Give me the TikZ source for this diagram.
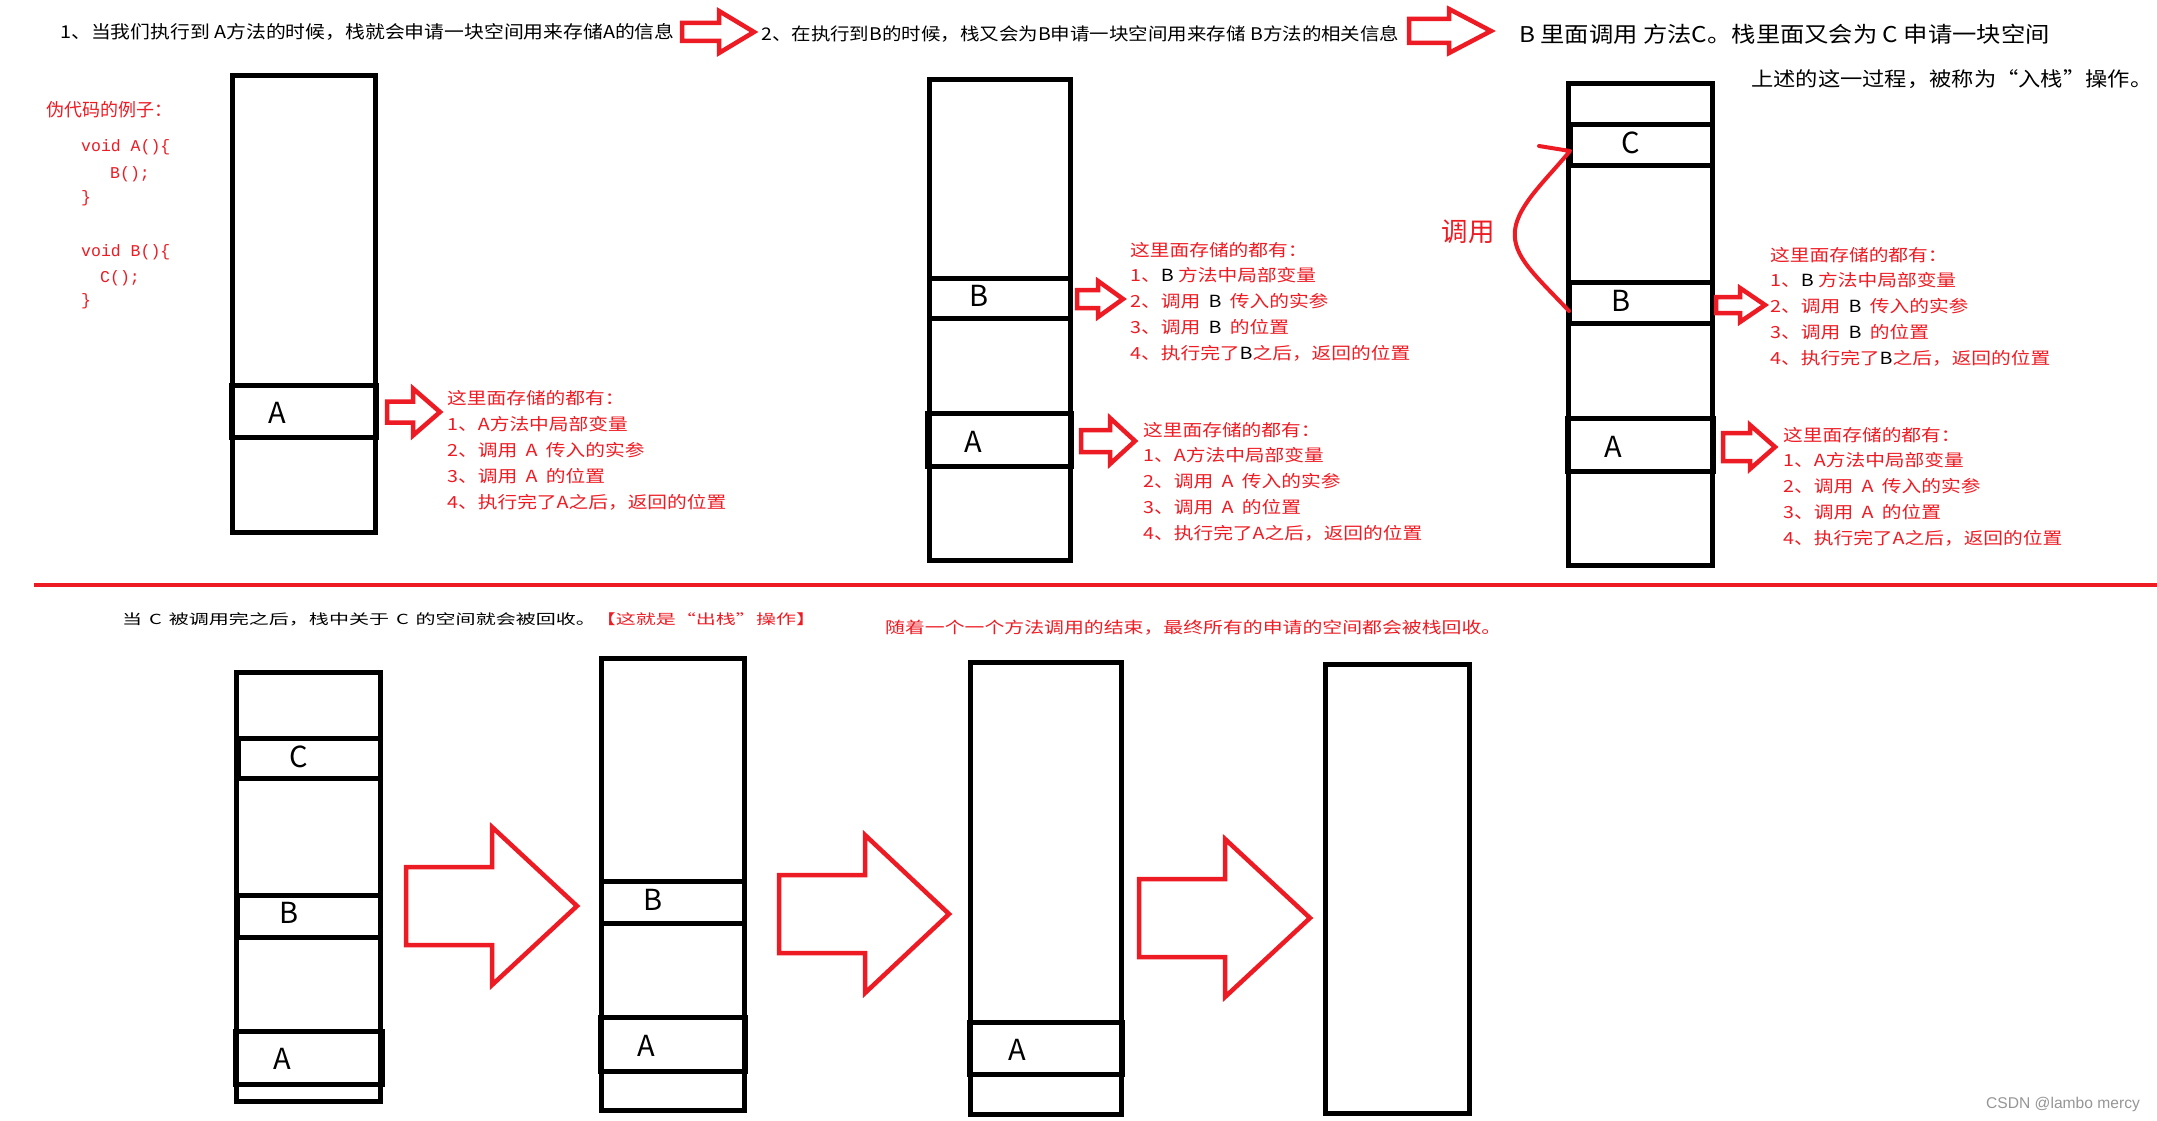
\documentclass[tikz,border=0pt]{standalone}
\usepackage{fontspec}
\setmainfont{Noto Sans CJK SC}
\newfontfamily\cjk{Noto Sans CJK SC}
\newfontfamily\cjka[FakeStretch=1.12]{Noto Sans CJK SC}
\newfontfamily\cjkn[FakeStretch=1.18]{Noto Sans CJK SC}
\newfontfamily\cjkb[FakeStretch=1.44]{Noto Sans CJK SC}
\newfontfamily\cjkc[FakeStretch=1.25]{Noto Sans CJK SC}
\newfontfamily\codef{Liberation Mono}
\newfontfamily\wmf{Liberation Sans}
\definecolor{ared}{RGB}{237,28,36}
\definecolor{wmgray}{RGB}{150,150,150}
\newcommand\fs[1]{\fontsize{#1}{#1}\selectfont}
% stack box / cell: name, x0, y0, x1, y1
\newcommand\stk[5]{\node[stackbox, minimum width={#4-#2}, minimum height={#5-#3}] (#1) at ({(#2+#4)/2},{(#3+#5)/2}) {};}
% hollow arrow: x0, tip x, yc, shaft half, head half, head base x
\newcommand\harrow[6]{\draw[harr] (#1,{#3-#4}) -- (#6,{#3-#4}) -- (#6,{#3-#5}) -- (#2,#3) -- (#6,{#3+#5}) -- (#6,{#3+#4}) -- (#1,{#3+#4}) -- cycle;}
% note block: name, x, first baseline, step, 5 lines
\newcommand\noteblock[9]{%
  \node[note] (#1a) at (#2,#3) {#5};
  \node[note] (#1b) at (#2,{#3+#4}) {#6};
  \node[note] (#1c) at (#2,{#3+2*#4}) {#7};
  \node[note] (#1d) at (#2,{#3+3*#4}) {#8};
  \node[note] (#1e) at (#2,{#3+4*#4}) {#9};}
\newcommand\bk[1]{{\color{black}#1}}
\tikzset{
  stackbox/.style={draw=black, line width=5pt, inner sep=0pt, outer sep=0pt},
  harr/.style={draw=ared, line width=4.5pt, line join=miter},
  note/.style={anchor=base west, inner sep=0pt, text=ared, font=\cjkn\fs{16.7}},
  lbl/.style={inner sep=0pt, font=\cjk\fs{29}},
  head/.style={anchor=base west, inner sep=0pt},
  code/.style={anchor=base west, inner sep=0pt, text=ared, font=\codef\fs{16.5}},
}
\begin{document}
\begin{tikzpicture}[x=1pt, y=-1pt]
\useasboundingbox (0,0) rectangle (2157,1121);
\fill[white] (0,0) rectangle (2157,1121);

% ---------- headers ----------
\node[head, font=\cjka\fs{17.7}] (h1) at (60,38.5) {1、当我们执行到 A方法的时候，栈就会申请一块空间用来存储A的信息};
\harrow{682}{754}{32}{9}{21}{719}
\node[head, font=\cjka\fs{17.4}] (h2) at (761,41) {2、在执行到B的时候，栈又会为B申请一块空间用来存储 B方法的相关信息};
\harrow{1409}{1491}{31}{12}{22}{1449}
\node[head, font=\cjka\fs{21.7}] (h3) at (1519,43) {B 里面调用 方法C。栈里面又会为 C 申请一块空间};
\node[head, font=\cjka\fs{19.9}] (h4) at (1751,87) {上述的这一过程，被称为“入栈”操作。};

% ---------- pseudo code ----------
\node[head, text=ared, font=\cjk\fs{18}] (pc) at (46,116.5) {伪代码的例子：};
\node[code] (c1) at (81,152) {void A()\{};
\node[code] (c2) at (110,178) {B();};
\node[code] (c3) at (81,202) {\}};
\node[code] (c4) at (81,256) {void B()\{};
\node[code] (c5) at (100,282) {C();};
\node[code] (c6) at (81,305) {\}};

% ---------- stack 1 ----------
\stk{s1}{232}{76}{375}{532}
\stk{s1a}{231}{385}{376}{437}
\node[lbl] (l1a) at (277,413) {A};
\harrow{387}{440}{412}{10.5}{23.5}{413}
\noteblock{n1}{447}{404}{26.2}{这里面存储的都有：}{1、A方法中局部变量}{2、调用\enspace A\enspace 传入的实参}{3、调用\enspace A\enspace 的位置}{4、执行完了A之后，返回的位置}

% ---------- stack 2 ----------
\stk{s2}{929}{80}{1070}{560}
\stk{s2b}{929}{278}{1070}{318}
\stk{s2a}{927}{413}{1071}{466}
\node[lbl] (l2b) at (979,296) {B};
\node[lbl] (l2a) at (973,442) {A};
\harrow{1077}{1123}{299}{9}{18}{1098}
\noteblock{n2}{1130}{256}{25.8}{这里面存储的都有：}{1、\bk{B} 方法中局部变量}{2、调用\enspace \bk{B}\enspace 传入的实参}{3、调用\enspace \bk{B}\enspace 的位置}{4、执行完了\bk{B}之后，返回的位置}
\harrow{1081}{1135}{441}{11}{23}{1110}
\noteblock{n3}{1143}{436}{25.8}{这里面存储的都有：}{1、A方法中局部变量}{2、调用\enspace A\enspace 传入的实参}{3、调用\enspace A\enspace 的位置}{4、执行完了A之后，返回的位置}

% ---------- stack 3 ----------
\stk{s3}{1568}{84}{1712}{565}
\stk{s3c}{1570}{125}{1712}{165}
\stk{s3b}{1569}{282}{1712}{323}
\stk{s3a}{1567}{418}{1713}{471}
\node[lbl] (l3c) at (1631,143) {C};
\node[lbl] (l3b) at (1621,301) {B};
\node[lbl] (l3a) at (1613,447) {A};
\node[inner sep=0pt, text=ared, font=\cjk\fs{26.5}] (call) at (1468,232) {调用};
\draw[ared, line width=4pt, line cap=round, line join=round]
  ([yshift=-8.5pt]s3b.west) .. controls (1535,275) and (1512,256) .. (1515,230)
  .. controls (1518,205) and (1546,180) .. ([yshift=-6pt]s3c.west) -- ++(-31,-5);
\harrow{1716}{1765}{305}{8}{17}{1740}
\noteblock{n4}{1770}{261}{25.8}{这里面存储的都有：}{1、\bk{B} 方法中局部变量}{2、调用\enspace \bk{B}\enspace 传入的实参}{3、调用\enspace \bk{B}\enspace 的位置}{4、执行完了\bk{B}之后，返回的位置}
\harrow{1723}{1775}{447}{14}{22}{1750}
\noteblock{n5}{1783}{441}{25.8}{这里面存储的都有：}{1、A方法中局部变量}{2、调用\enspace A\enspace 传入的实参}{3、调用\enspace A\enspace 的位置}{4、执行完了A之后，返回的位置}

% ---------- divider ----------
\draw[ared, line width=4pt] (34,585) -- (2157,585);

% ---------- bottom texts ----------
\node[head, font=\cjkb\fs{13.9}] (t1) at (122,624) {当\enspace C\enspace 被调用完之后，栈中关于\enspace C\enspace 的空间就会被回收。\textcolor{ared}{【这就是“出栈”操作】}};
\node[head, text=ared, font=\cjkc\fs{15.9}] (t2) at (885,633) {随着一个一个方法调用的结束，最终所有的申请的空间都会被栈回收。};

% ---------- stack 4 ----------
\stk{s4}{236}{672}{380}{1101}
\stk{s4c}{238}{738}{380}{778}
\stk{s4b}{237}{895}{380}{937}
\stk{s4a}{235}{1031}{382}{1084}
\node[lbl] (l4c) at (299,757) {C};
\node[lbl] (l4b) at (289,913) {B};
\node[lbl] (l4a) at (282,1059) {A};
\harrow{406}{577}{906}{39}{79}{492}

% ---------- stack 5 ----------
\stk{s5}{601}{658}{744}{1110}
\stk{s5b}{601}{881}{744}{923}
\stk{s5a}{600}{1017}{745}{1071}
\node[lbl] (l5b) at (653,900) {B};
\node[lbl] (l5a) at (646,1046) {A};
\harrow{779}{949}{914}{39}{79}{865}

% ---------- stack 6 ----------
\stk{s6}{970}{662}{1121}{1114}
\stk{s6a}{969}{1022}{1122}{1074}
\node[lbl] (l6a) at (1017,1050) {A};
\harrow{1139}{1310}{918}{39}{79}{1225}

% ---------- stack 7 ----------
\stk{s7}{1325}{664}{1469}{1113}

% ---------- watermark ----------
\node[head, text=wmgray, font=\wmf\fs{15.6}] (wm) at (1986,1108) {CSDN @lambo mercy};
\end{tikzpicture}
\end{document}
